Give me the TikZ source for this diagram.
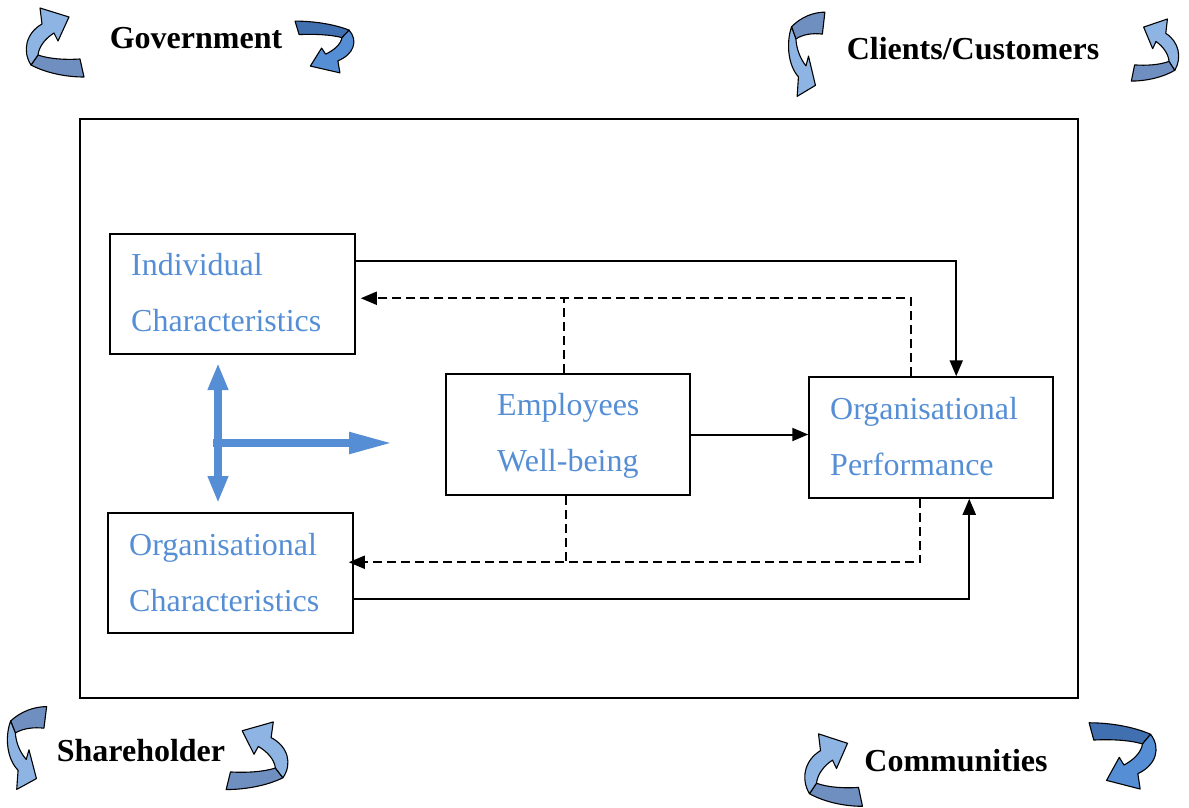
\documentclass[tikz,border=0pt]{standalone}
\usepackage{fontspec}
\setmainfont{Liberation Serif}
\usetikzlibrary{arrows.meta,calc}
\definecolor{txtblue}{HTML}{558ED5}
\definecolor{arrlight}{HTML}{8DB4E2}
\definecolor{arrdark}{HTML}{6F8FC0}
\definecolor{arrmid}{HTML}{558ED5}
\definecolor{arrdeep}{HTML}{4170B0}
\newcommand{\ribbonarrow}[3]{%
 \begin{scope}[#1]
  \filldraw[ribbon, fill=#2] (17,50) .. controls (28,54) and (45,55) .. (59,54) -- (63,72) .. controls (45,72) and (25,68) .. (10,60) -- cycle;
  \filldraw[ribbon, fill=#3] (10,60) .. controls (1,46) and (5,28) .. (21,19) -- (19,3) -- (48,12) -- (37,36) -- (33,28) .. controls (25,33) and (18,41) .. (17,50) -- cycle;
 \end{scope}}
\tikzset{
  ribbon/.style={draw=black, line width=1.1pt, line join=round},
  boxnode/.style={draw=black, line width=1.5pt, rectangle, inner sep=0pt},
  boxtext/.style={anchor=base west, inner sep=0pt, text=txtblue, font=\fontsize{32}{38}\selectfont},
  stakeholder/.style={inner sep=0pt, font=\fontsize{32}{38}\selectfont\bfseries},
  conn/.style={line width=2pt, -{Triangle[length=16pt,width=13pt]}},
  dashconn/.style={line width=1.8pt, dash pattern=on 9pt off 5pt, -{Triangle[length=16pt,width=13pt]}},
  dashline/.style={line width=1.8pt, dash pattern=on 9pt off 5pt},
  bluearrow/.style={draw=txtblue, line width=8pt}
}
\begin{document}
\begin{tikzpicture}[x=1pt,y=-1pt]
\useasboundingbox (0,0) rectangle (1189,808);
% outer frame
\node[boxnode, minimum width=998pt, minimum height=579pt] (frame) at (579,408.5) {};
% boxes
\node[boxnode, minimum width=245pt, minimum height=120pt] (IC) at (232.5,294) {};
\node[boxnode, minimum width=244pt, minimum height=121pt] (EW) at (568,434.5) {};
\node[boxnode, minimum width=244pt, minimum height=121pt] (OP) at (931,437.5) {};
\node[boxnode, minimum width=245pt, minimum height=120pt] (OC) at (230.5,573) {};
% box texts
\node[boxtext] (ic1) at (131,275) {Individual};
\node[boxtext] (ic2) at (131,331) {Characteristics};
\node[boxtext] (ew1) at (497,415) {Employees};
\node[boxtext] (ew2) at (497,471) {Well-being};
\node[boxtext] (op1) at (830,419) {Organisational};
\node[boxtext] (op2) at (830,475) {Performance};
\node[boxtext] (oc1) at (129,555) {Organisational};
\node[boxtext] (oc2) at (129,611) {Characteristics};
% stakeholder labels
\node[stakeholder] (gov) at (196,38) {Government};
\node[stakeholder] (cli) at (973,49) {Clients/Customers};
\node[stakeholder] (sha) at (141,751) {Shareholder};
\node[stakeholder] (com) at (956,761) {Communities};
% solid connectors
\draw[conn] ($(IC.north east)+(0,28)$) -| ($(OP.north west)+(148,0)$);
\draw[conn] ($(OC.north east)+(0,87)$) -| ($(OP.south west)+(161,0)$);
\draw[conn] (EW.east) -- (EW.east -| OP.west);
% dashed feedback
\draw[dashconn] ($(OP.north west)+(103,0)$) |- ($(IC.north east)+(5,65)$);
\draw[dashline] ($(EW.north west)+(119,0)$) -- ($(EW.north west)+(119,-75)$);
\draw[dashconn] ($(OP.south west)+(112,0)$) |- ($(OC.north east)+(-5,50)$);
\draw[dashline] ($(EW.south west)+(121,0)$) -- ($(EW.south west)+(121,68)$);
% blue cross
\coordinate (vt) at (218,363);
\coordinate (vb) at (218,503);
\coordinate (hl) at (213,443);
\coordinate (hr) at (393,443);
\draw[bluearrow, {Triangle[length=27pt,width=19pt]}-{Triangle[length=27pt,width=19pt]}] (vt) -- (vb);
\draw[bluearrow, -{Triangle[length=44pt,width=20pt]}] (hl) -- (hr);
% ribbon arrows
\ribbonarrow{shift={(21,5)}}{arrdark}{arrlight}
\ribbonarrow{shift={(359.3,75.1)},xscale=-1.02,yscale=-0.75}{arrdeep}{arrmid}
\ribbonarrow{shift={(785.2,100)},xscale=0.63,yscale=-1.22}{arrdark}{arrlight}
\ribbonarrow{shift={(1183,16.3)},xscale=-0.82,yscale=0.9}{arrdark}{arrlight}
\ribbonarrow{shift={(3.8,793)},xscale=0.68,yscale=-1.2}{arrdark}{arrlight}
\ribbonarrow{shift={(293.6,719)},xscale=-1.07,yscale=0.98}{arrdark}{arrlight}
\ribbonarrow{shift={(799.5,730.7)},xscale=1.0,yscale=1.05}{arrdark}{arrlight}
\ribbonarrow{shift={(1162.2,791.9)},xscale=-1.16,yscale=-0.96}{arrdeep}{arrmid}
\end{tikzpicture}
\end{document}
